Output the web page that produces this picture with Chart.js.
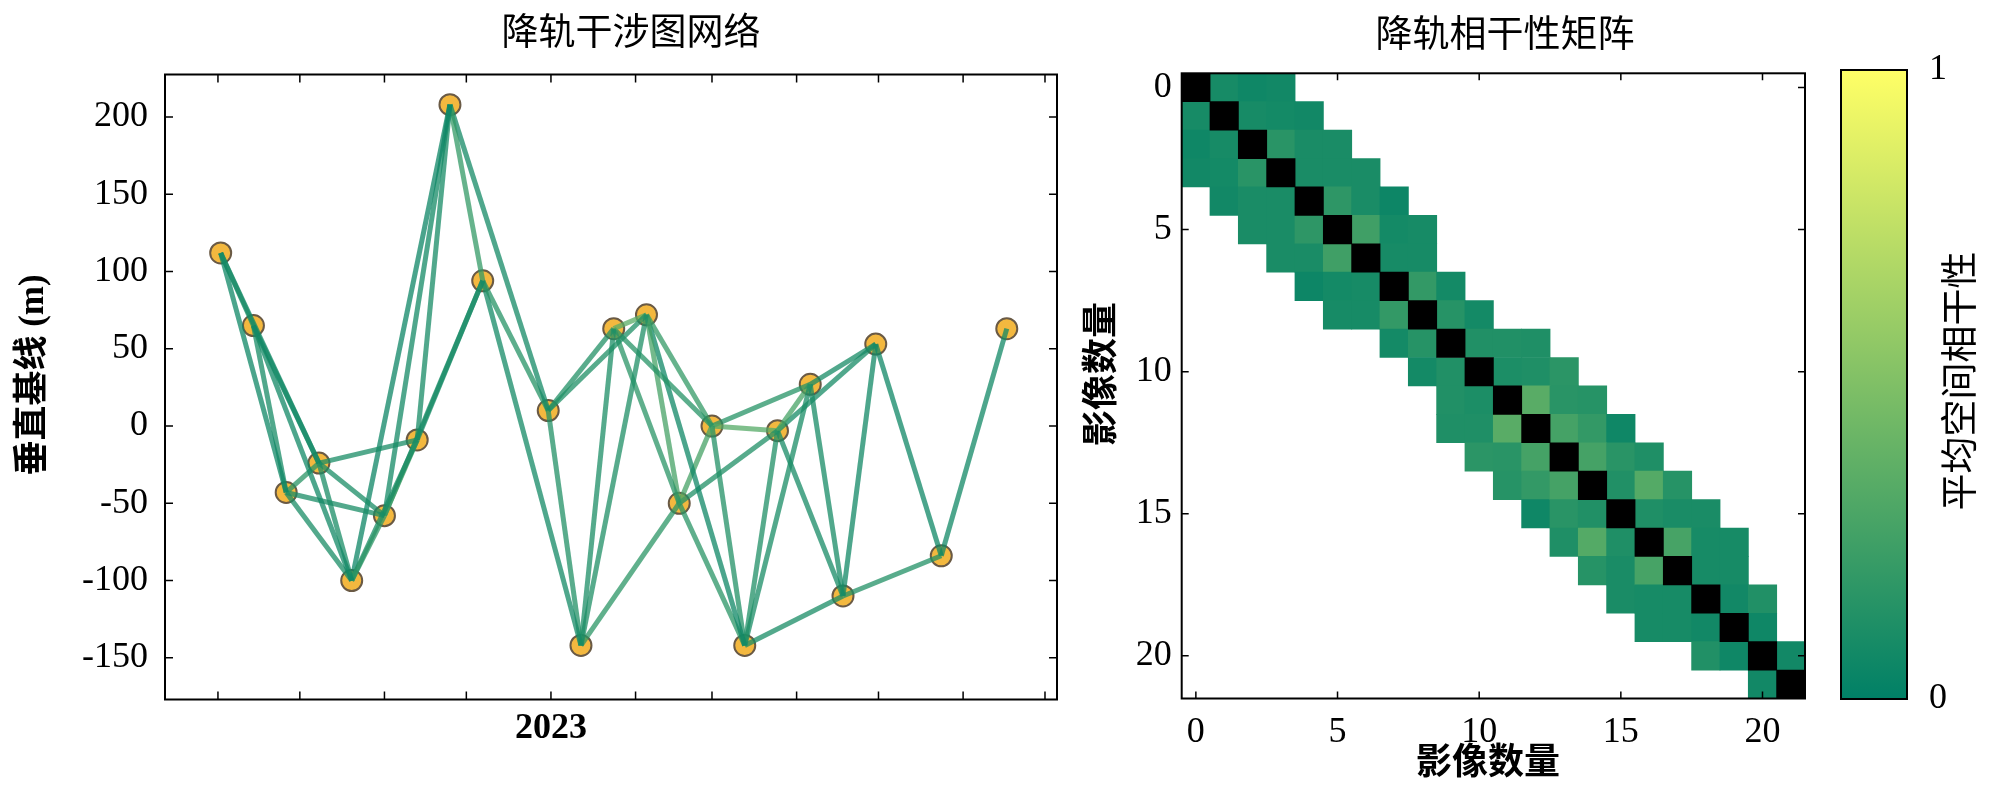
<!DOCTYPE html>
<html lang="zh">
<head>
<meta charset="utf-8">
<title>降轨干涉图网络 / 降轨相干性矩阵</title>
<script src="https://cdn.jsdelivr.net/npm/chart.js@4.4.1/dist/chart.umd.min.js"></script>
<style>
  html, body { margin: 0; padding: 0; background: #fff; }
  #fig { position: relative; width: 2000px; height: 797px; overflow: hidden; }
  canvas { position: absolute; top: 0; }
  #networkChart { left: 0; }
  #matrixChart { left: 1070px; }
  #colorbarChart { left: 1830px; }
</style>
</head>
<body>
<div id="fig">
  <canvas id="networkChart" width="1070" height="797"></canvas>
  <canvas id="matrixChart" width="760" height="797"></canvas>
  <canvas id="colorbarChart" width="170" height="797"></canvas>
</div>
<script>
// Dates d'acquisition (pas de 12 jours, quelques trous)
const dates = [
  '2022-09-02', '2022-09-14', '2022-09-26', '2022-10-08', '2022-10-20', '2022-11-01',
  '2022-11-13', '2022-11-25', '2022-12-07', '2022-12-31', '2023-01-12', '2023-01-24',
  '2023-02-05', '2023-02-17', '2023-03-01', '2023-03-13', '2023-03-25', '2023-04-06',
  '2023-04-18', '2023-04-30', '2023-05-24', '2023-06-17'
];

// Lignes de base perpendiculaires (m)
const baselines = [112, 65, -43, -24, -100, -58, -9, 208, 94, 10, -142, 63, 72, -50, 0, -142, -3, 27, -110, 53, -84, 63];

// Paires d'interférogrammes (indices d'images)
const pairs = [
  [0, 1], [0, 2], [0, 3],
  [1, 2], [1, 3], [1, 4],
  [2, 3], [2, 4], [2, 5],
  [3, 4], [3, 5], [3, 6],
  [4, 5], [4, 6], [4, 7],
  [5, 6], [5, 7], [5, 8],
  [6, 7], [6, 8],
  [7, 8], [7, 9],
  [8, 9], [8, 10],
  [9, 10], [9, 11], [9, 12],
  [10, 11], [10, 12], [10, 13],
  [11, 12], [11, 13], [11, 14],
  [12, 13], [12, 14], [12, 15],
  [13, 14], [13, 15], [13, 16],
  [14, 15], [14, 16], [14, 17],
  [15, 16], [15, 17], [15, 18],
  [16, 17], [16, 18], [16, 19],
  [17, 18], [17, 19],
  [18, 19], [18, 20],
  [19, 20],
  [20, 21]
];

// Cohérence spatiale moyenne de chaque paire (même ordre que pairs)
const coherence = [
  0.09, 0.06, 0.07,
  0.09, 0.08, 0.07,
  0.16, 0.10, 0.10,
  0.10, 0.10, 0.10,
  0.18, 0.10, 0.05,
  0.25, 0.08, 0.09,
  0.09, 0.09,
  0.20, 0.08,
  0.15, 0.08,
  0.13, 0.13, 0.12,
  0.11, 0.12, 0.17,
  0.35, 0.16, 0.15,
  0.27, 0.20, 0.06,
  0.27, 0.16, 0.12,
  0.13, 0.33, 0.15,
  0.12, 0.10, 0.10,
  0.28, 0.09, 0.09,
  0.09, 0.09,
  0.07, 0.13,
  0.06,
  0.07
];

// Graduations
const xTickDates = [
  '2022-09-01', '2022-10-01', '2022-11-01', '2022-12-01', '2023-01-01', '2023-02-01',
  '2023-03-01', '2023-04-01', '2023-05-01', '2023-06-01', '2023-07-01'
];
const xTickLabels = ['', '', '', '', '2023', '', '', '', '', '', ''];
const yTicks = [-150, -100, -50, 0, 50, 100, 150, 200];
const matrixTicks = [0, 5, 10, 15, 20];
const colorbarTicks = [0, 1];

// Jours depuis le 1er septembre 2022 (axe linéaire, pas d'adaptateur de dates)
const origin = Date.parse('2022-09-01');
const toDay = s => (Date.parse(s) - origin) / 86400000;
const days = dates.map(toDay);
const xTickDays = xTickDates.map(toDay);

// Palette "summer" de matplotlib
function summer(v, a = 1) {
  return `rgba(${Math.round(255 * v)}, ${Math.round(127.5 + 127.5 * v)}, 102, ${a})`;
}

const serif = '"Liberation Serif", "Noto Sans CJK SC", serif';
const cjk = '"Noto Sans CJK SC", sans-serif';
const tickFont = { family: serif, size: 36 };

// Cadre noir + graduations tournées vers l'intérieur
const framePlugin = {
  id: 'frame',
  afterDatasetsDraw(chart, args, opts) {
    const { ctx, chartArea: a, scales } = chart;
    ctx.save();
    ctx.strokeStyle = '#000';
    if (opts.ticks) {
      ctx.lineWidth = 1.5;
      ctx.beginPath();
      scales.x.ticks.forEach(t => {
        const px = scales.x.getPixelForValue(t.value);
        ctx.moveTo(px, a.bottom); ctx.lineTo(px, a.bottom - opts.len);
        ctx.moveTo(px, a.top); ctx.lineTo(px, a.top + opts.len);
      });
      scales.y.ticks.forEach(t => {
        const py = scales.y.getPixelForValue(t.value);
        ctx.moveTo(a.left, py); ctx.lineTo(a.left + opts.len, py);
        ctx.moveTo(a.right, py); ctx.lineTo(a.right - opts.len, py);
      });
      ctx.stroke();
    }
    ctx.lineWidth = 2;
    ctx.strokeRect(a.left, a.top, a.right - a.left, a.bottom - a.top);
    ctx.restore();
  }
};

// Titres et libellés d'axes placés à la main
const textPlugin = {
  id: 'texts',
  afterDraw(chart, args, opts) {
    const ctx = chart.ctx;
    opts.items.forEach(it => {
      ctx.save();
      ctx.translate(it.x, it.y);
      if (it.rot) ctx.rotate(it.rot);
      ctx.font = it.font;
      ctx.fillStyle = '#000';
      ctx.textAlign = 'center';
      ctx.textBaseline = 'middle';
      ctx.fillText(it.text, 0, 0);
      ctx.restore();
    });
  }
};

// 1. Réseau d'interférogrammes
const edgeDatasets = pairs.map(([i, j], k) => ({
  data: [{ x: days[i], y: baselines[i] }, { x: days[j], y: baselines[j] }],
  showLine: true,
  borderColor: summer(coherence[k], 0.75),
  borderWidth: 5,
  pointRadius: 0,
  order: 0
}));

const nodeDataset = {
  data: days.map((d, i) => ({ x: d, y: baselines[i] })),
  backgroundColor: '#f3b83f',
  borderColor: '#6a5a45',
  borderWidth: 2,
  pointRadius: 10.5,
  order: 1
};

new Chart(document.getElementById('networkChart'), {
  type: 'scatter',
  data: { datasets: [nodeDataset, ...edgeDatasets] },
  options: {
    responsive: false,
    animation: false,
    events: [],
    layout: { padding: { left: 0, top: 74.5, right: 13, bottom: 37.5 } },
    plugins: {
      legend: { display: false },
      tooltip: { enabled: false },
      frame: { ticks: true, len: 8 },
      texts: {
        items: [
          { text: '降轨干涉图网络', x: 631, y: 31, font: '37px ' + cjk },
          { text: '垂直基线 (m)', x: 34, y: 375, rot: -Math.PI / 2, font: 'bold 35px ' + serif }
        ]
      }
    },
    scales: {
      x: {
        type: 'linear',
        min: -19.4,
        max: 307.4,
        afterFit: s => { s.height = 60; },
        afterBuildTicks: s => { s.ticks = xTickDays.map(v => ({ value: v })); },
        ticks: {
          autoSkip: false,
          maxRotation: 0,
          padding: 8,
          color: '#000',
          font: { family: serif, size: 36, weight: 'bold' },
          callback: (v, i) => xTickLabels[i]
        },
        grid: { display: false, drawTicks: false },
        border: { display: false }
      },
      y: {
        min: -177,
        max: 227.5,
        afterFit: s => { s.width = 165; },
        afterBuildTicks: s => { s.ticks = yTicks.map(v => ({ value: v })); },
        ticks: { padding: 17, color: '#000', font: tickFont },
        grid: { display: false, drawTicks: false },
        border: { display: false }
      }
    }
  },
  plugins: [framePlugin, textPlugin]
});

// 2. Matrice de cohérence (symétrique, diagonale en noir)
const cells = [];
pairs.forEach(([i, j], k) => {
  cells.push({ x: j, y: i, v: coherence[k] });
  cells.push({ x: i, y: j, v: coherence[k] });
});
days.forEach((d, i) => cells.push({ x: i, y: i, v: null }));

new Chart(document.getElementById('matrixChart'), {
  type: 'scatter',
  data: {
    datasets: [{
      data: cells,
      pointStyle: 'rect',
      borderWidth: 0,
      // côté du carré = largeur d'une case
      pointRadius: ctx => {
        const s = ctx.chart.scales.x;
        return (s.getPixelForValue(1) - s.getPixelForValue(0) + 0.8) / Math.SQRT2;
      },
      backgroundColor: ctx => (ctx.raw.v === null ? '#000' : summer(ctx.raw.v))
    }]
  },
  options: {
    responsive: false,
    animation: false,
    events: [],
    layout: { padding: { left: 0, top: 73.3, right: 25, bottom: 38.5 } },
    plugins: {
      legend: { display: false },
      tooltip: { enabled: false },
      frame: { ticks: true, len: 7 },
      texts: {
        items: [
          { text: '降轨相干性矩阵', x: 435, y: 33, font: '37px ' + cjk },
          { text: '影像数量', x: 418, y: 765, font: 'bold 36px ' + serif },
          { text: '影像数量', x: 33.5, y: 374, rot: -Math.PI / 2, font: 'bold 36px ' + serif }
        ]
      }
    },
    scales: {
      x: {
        type: 'linear',
        min: -0.5,
        max: 21.5,
        afterFit: s => { s.height = 60; },
        afterBuildTicks: s => { s.ticks = matrixTicks.map(v => ({ value: v })); },
        ticks: { padding: 12, color: '#000', font: tickFont },
        grid: { display: false, drawTicks: false },
        border: { display: false }
      },
      y: {
        min: -0.5,
        max: 21.5,
        reverse: true,
        afterFit: s => { s.width = 111.7; },
        afterBuildTicks: s => { s.ticks = matrixTicks.map(v => ({ value: v })); },
        ticks: { padding: 10, color: '#000', font: tickFont },
        grid: { display: false, drawTicks: false },
        border: { display: false }
      }
    }
  },
  plugins: [framePlugin, textPlugin]
});

// 3. Barre de couleurs
new Chart(document.getElementById('colorbarChart'), {
  type: 'bar',
  data: {
    labels: [''],
    datasets: [{
      data: [[0, 1]],
      barPercentage: 1,
      categoryPercentage: 1,
      borderWidth: 0,
      backgroundColor: ctx => {
        const a = ctx.chart.chartArea;
        if (!a) return summer(0.5);
        const g = ctx.chart.ctx.createLinearGradient(0, a.bottom, 0, a.top);
        g.addColorStop(0, summer(0));
        g.addColorStop(1, summer(1));
        return g;
      }
    }]
  },
  options: {
    responsive: false,
    animation: false,
    events: [],
    layout: { padding: { left: 11, top: 70, right: 0, bottom: 98 } },
    plugins: {
      legend: { display: false },
      tooltip: { enabled: false },
      frame: { ticks: false },
      texts: {
        items: [
          { text: '平均空间相干性', x: 129, y: 381, rot: -Math.PI / 2, font: '37px ' + cjk }
        ]
      }
    },
    scales: {
      x: { display: false },
      y: {
        position: 'right',
        min: 0,
        max: 1,
        afterFit: s => { s.width = 93; },
        afterBuildTicks: s => { s.ticks = colorbarTicks.map(v => ({ value: v })); },
        ticks: { padding: 22, color: '#000', font: tickFont },
        grid: { display: false, drawTicks: false },
        border: { display: false }
      }
    }
  },
  plugins: [framePlugin, textPlugin]
});
</script>
</body>
</html>
